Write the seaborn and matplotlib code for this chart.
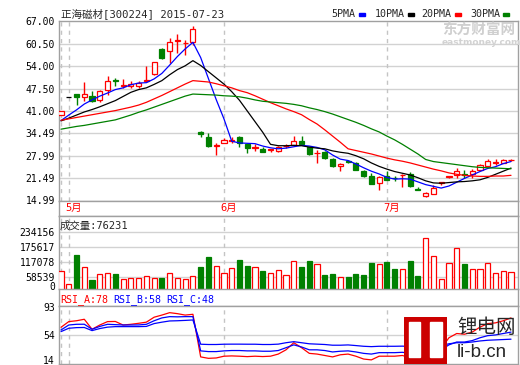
import numpy as np
import pandas as pd
import matplotlib
matplotlib.use('Agg')
import matplotlib.pyplot as plt
import seaborn as sns
from matplotlib.patches import Rectangle

sns.set_theme(style='white')
plt.rcParams['font.family'] = ['DejaVu Sans Mono', 'Noto Sans CJK SC']

# daily OHLC, 2015-04-30 .. 2015-07-23
opens = [39.9, 45.0, 45.9, 45.0, 45.4, 44.1, 47.0, 50.1, 48.3, 48.1,
         48.3, 49.6, 51.8, 59.1, 58.3, 61.3, 60.6, 61.0, 34.8, 33.4,
         30.8, 31.8, 32.4, 33.3, 31.5, 30.3, 30.0, 29.6, 29.5, 30.7,
         31.2, 32.4, 30.5, 28.7, 29.0, 27.0, 24.9, 26.4, 25.8, 23.6,
         22.2, 20.0, 22.0, 21.6, 22.3, 22.8, 18.2, 16.2, 16.9, 20.2,
         21.9, 22.5, 22.6, 22.7, 23.9, 25.1, 25.9, 26.0, 26.7]
closes = [40.9, 45.0, 45.0, 45.9, 44.0, 46.7, 49.6, 49.6, 48.4, 48.8,
          49.0, 50.1, 55.2, 56.4, 61.0, 61.5, 60.8, 64.8, 34.2, 30.7,
          31.0, 32.6, 32.6, 31.7, 30.2, 30.5, 29.2, 29.8, 30.5, 30.9,
          32.4, 31.5, 28.5, 28.9, 27.3, 24.9, 25.6, 26.2, 23.9, 22.0,
          19.8, 21.8, 21.0, 21.4, 22.5, 19.3, 17.9, 17.1, 18.6, 20.3,
          22.0, 23.6, 22.4, 23.6, 25.2, 26.6, 26.3, 26.8, 26.8]
highs = [41.0, 45.0, 45.9, 49.4, 46.8, 47.0, 51.2, 50.5, 50.3, 49.8,
         49.6, 54.0, 55.3, 59.3, 62.2, 63.3, 61.7, 65.7, 35.1, 34.6,
         31.8, 33.0, 33.5, 33.6, 31.6, 31.3, 30.4, 29.9, 30.9, 31.3,
         33.8, 33.8, 30.6, 29.7, 29.5, 27.2, 26.0, 26.7, 26.3, 23.9,
         23.0, 22.0, 23.6, 22.0, 22.6, 23.2, 18.9, 17.6, 19.6, 20.4,
         22.2, 24.4, 23.9, 24.0, 25.7, 27.1, 26.9, 27.1, 27.0]
lows = [39.9, 45.0, 42.6, 43.8, 43.6, 43.6, 45.7, 48.3, 47.6, 47.6,
        47.7, 49.5, 51.5, 56.2, 54.9, 57.8, 57.3, 60.2, 33.4, 30.5,
        28.1, 31.6, 31.6, 30.6, 28.8, 29.4, 29.0, 29.1, 29.1, 30.2,
        31.0, 31.2, 28.3, 25.9, 27.1, 24.8, 23.6, 26.0, 23.9, 21.9,
        19.7, 17.9, 20.9, 20.7, 18.9, 18.9, 17.9, 16.1, 16.8, 19.5,
        21.5, 21.5, 21.5, 21.5, 23.8, 25.0, 25.4, 25.9, 26.5]
volumes = [82000, 28900, 143200, 95200, 45700, 67900, 71800, 67900, 49600, 52300,
           52300, 60100, 52300, 52300, 71800, 52300, 49600, 60100, 95200, 134200,
           99100, 71800, 91300, 122500, 100300, 95200, 80800, 71800, 83500, 64000,
           118600, 96400, 119800, 106900, 65200, 69100, 56200, 57400, 69100, 65200,
           112000, 106900, 115900, 88600, 87400, 119800, 61300, 208400, 138200, 48400,
           110800, 169400, 108100, 87400, 87400, 110800, 71800, 79600, 76231]

ma5 = [38.2, 39.8, 41.3, 43.0, 44.2, 45.3, 46.2, 47.2, 47.7, 48.6,
       49.1, 49.2, 50.3, 51.9, 54.3, 56.8, 59.0, 60.9, 56.5, 50.4,
       44.3, 38.7, 32.2, 31.7, 31.6, 31.5, 30.8, 30.3, 30.0, 30.2,
       30.6, 31.0, 30.8, 30.4, 29.7, 28.2, 27.0, 26.6, 25.6, 24.5,
       23.5, 22.7, 21.7, 21.2, 21.3, 21.2, 20.4, 19.6, 19.1, 18.6,
       19.2, 20.3, 21.4, 22.4, 23.4, 24.3, 24.8, 25.7, 26.3]
ma10 = [38.1, 38.9, 39.8, 40.7, 41.4, 42.2, 43.1, 44.0, 45.2, 46.4,
        47.2, 47.7, 48.7, 49.8, 51.5, 53.0, 54.1, 55.6, 54.2, 52.4,
        50.6, 48.8, 46.6, 44.1, 41.0, 37.9, 34.8, 31.3, 30.9, 30.9,
        31.0, 30.9, 30.5, 30.2, 30.0, 29.4, 29.0, 28.7, 28.0, 27.1,
        25.9, 24.9, 24.1, 23.4, 22.9, 22.4, 21.6, 20.7, 20.1, 20.0,
        20.2, 20.4, 20.5, 20.7, 21.0, 21.7, 22.6, 23.5, 24.4]
ma20 = [38.3, 38.7, 39.1, 39.5, 39.9, 40.3, 40.7, 41.1, 41.6, 42.1,
        42.7, 43.5, 44.5, 45.5, 46.6, 47.7, 48.8, 49.8, 49.6, 49.4,
        48.9, 48.3, 47.7, 46.9, 46.3, 45.4, 44.4, 43.4, 42.5, 41.6,
        40.8, 39.9, 38.5, 37.2, 35.5, 33.7, 31.9, 30.0, 29.5, 29.0,
        28.5, 27.9, 27.3, 26.8, 26.4, 25.9, 25.3, 24.7, 24.1, 23.6,
        23.0, 22.6, 22.3, 22.1, 22.0, 22.0, 22.1, 22.1, 22.3]
ma30 = [35.7, 36.1, 36.5, 36.8, 37.2, 37.6, 38.0, 38.4, 39.1, 39.8,
        40.6, 41.3, 42.1, 42.9, 43.7, 44.5, 45.3, 45.9, 45.8, 45.7,
        45.6, 45.4, 45.3, 45.1, 44.7, 44.2, 43.8, 43.6, 43.4, 43.2,
        42.9, 42.5, 41.9, 41.4, 40.8, 40.1, 39.3, 38.5, 37.7, 36.8,
        35.8, 34.9, 33.7, 32.6, 31.3, 29.9, 28.5, 26.9, 26.3, 26.0,
        25.7, 25.4, 25.1, 24.8, 24.6, 24.5, 24.4, 24.3, 24.2]

rsi_a = [64.8, 72.8, 74.0, 76.1, 62.0, 68.0, 72.8, 73.0, 68.0, 69.0,
         70.4, 72.0, 79.0, 82.0, 85.4, 84.0, 82.0, 83.1, 23.0, 21.0,
         21.5, 24.0, 24.4, 24.0, 23.4, 24.0, 23.5, 24.0, 27.0, 33.0,
         43.0, 36.0, 28.0, 27.0, 25.0, 23.0, 26.0, 27.0, 24.0, 20.0,
         18.8, 24.0, 24.0, 24.0, 25.0, 22.0, 20.0, 21.0, 24.0, 35.0,
         50.0, 56.0, 55.0, 58.0, 65.0, 70.0, 71.0, 74.0, 78.0]
rsi_b = [61.0, 68.0, 69.0, 69.1, 62.0, 66.0, 69.0, 68.5, 68.0, 68.0,
         68.1, 69.0, 74.0, 78.0, 79.8, 79.5, 79.8, 79.8, 31.5, 30.5,
         30.5, 31.5, 32.0, 32.0, 31.5, 31.5, 31.0, 31.0, 32.0, 36.0,
         40.0, 37.0, 33.0, 33.0, 32.0, 30.0, 31.0, 31.5, 30.0, 28.0,
         27.0, 29.0, 29.0, 29.0, 29.5, 28.0, 27.0, 27.0, 29.0, 33.0,
         40.0, 44.0, 44.0, 46.0, 50.0, 53.0, 54.0, 56.0, 58.0]
rsi_c = [58.7, 63.4, 64.3, 64.5, 60.1, 63.0, 65.0, 65.7, 65.7, 65.7,
         65.7, 66.0, 70.0, 72.0, 73.7, 74.0, 74.5, 75.1, 40.9, 40.5,
         40.5, 40.9, 41.0, 41.0, 40.9, 40.9, 40.5, 40.5, 41.0, 43.0,
         44.5, 43.0, 41.5, 41.0, 40.5, 39.5, 39.5, 39.9, 39.0, 38.0,
         37.5, 38.0, 38.0, 38.0, 38.2, 37.5, 37.0, 37.0, 37.5, 39.0,
         41.5, 43.0, 43.0, 44.0, 45.5, 46.5, 47.0, 47.5, 48.0]

price_ticks = [14.99, 21.49, 27.99, 34.49, 41.00, 47.50, 54.00, 60.50, 67.00]
vol_ticks = [58539, 117078, 175617, 234156]
rsi_ticks = [14, 54, 93]
month_labels = ['5月', '6月', '7月']
month_starts = [1, 21, 42]

RED, GREEN, BLUE = '#FF0000', '#008000', '#0000FF'
GRID, EDGE, DASH = '#D2D2D2', '#A0A0A0', '#C4C4C4'
W, H = 520, 365

fig = plt.figure(figsize=(5.2, 3.65), dpi=100)


def px_axes(l, t, r, b):
    return fig.add_axes([l / W, 1 - b / H, (r - l) / W, (b - t) / H])


def fx(x):
    return x / W


def fy(y):
    return 1 - y / H


ax = px_axes(59, 20.7, 518, 200.5)
ax_m = px_axes(59, 200.5, 518, 216)
ax_v = px_axes(59, 216, 518, 289)
ax_s = px_axes(59, 289, 518, 306)
ax_r = px_axes(59, 306, 518, 364)

x = np.arange(len(closes))
o = np.array(opens)
c = np.array(closes)
rise = c >= o
flat = np.array(highs) == np.array(lows)

for a in (ax, ax_m, ax_v, ax_s, ax_r):
    a.set_xlim(-0.26, 58.9)
    a.set_facecolor('white')
    for sp in a.spines.values():
        sp.set_color(EDGE)
        sp.set_linewidth(1)
    a.tick_params(length=0, labelsize=7, pad=3, colors='black')
    a.set_xticks([])
    a.grid(False)
for a in (ax_m, ax_s):
    a.set_yticks([])

for a in (ax, ax_v, ax_r):
    for i in (0, 1, 21, 42):
        a.axvline(i, color=DASH, lw=1, ls=(0, (3, 3)), zorder=1)

# ---- price panel
ax.set_ylim(14.99, 67.2)
for v in price_ticks[1:-1]:
    ax.axhline(v, color=GRID, lw=1, zorder=0)
ax.set_yticks(price_ticks)
ax.set_yticklabels([f'{v:.2f}' for v in price_ticks])

wick_col = np.where(flat, 'black', np.where(rise, RED, GREEN))
ax.vlines(x, lows, highs, colors=wick_col, lw=1, zorder=2)
body_bot = np.minimum(o, c)
body_h = np.maximum(np.abs(c - o), 0.12)
face = np.where(flat, 'black', np.where(rise, 'white', GREEN))
edge = np.where(flat, 'black', np.where(rise, RED, GREEN))
ax.bar(x, body_h, bottom=body_bot, width=0.66, color=face, edgecolor=edge,
       linewidth=0.9, zorder=3)

ma = pd.DataFrame({'day': x, '5PMA': ma5, '10PMA': ma10, '20PMA': ma20, '30PMA': ma30})
ma_long = ma.melt(id_vars='day', var_name='line', value_name='price')
ma_pal = {'5PMA': BLUE, '10PMA': 'black', '20PMA': RED, '30PMA': GREEN}
sns.lineplot(data=ma_long, x='day', y='price', hue='line', palette=ma_pal,
             legend=False, lw=0.9, ax=ax, zorder=4)
ax.set_xlabel('')
ax.set_ylabel('')

# ---- month strip
ax_m.set_ylim(0, 1)
for lab, s in zip(month_labels, month_starts):
    ax_m.text(s - 0.45, 0.5, lab, color=RED, fontsize=7.5, ha='left', va='center')

# ---- volume panel
ax_v.set_ylim(10500, 295400)
for v in vol_ticks:
    ax_v.axhline(v, color=GRID, lw=1, zorder=0)
ax_v.set_yticks([22000] + vol_ticks)
ax_v.set_yticklabels(['0'] + [str(v) for v in vol_ticks])
ax_v.bar(x, volumes, width=0.66, color=np.where(rise, 'white', GREEN),
         edgecolor=np.where(rise, RED, GREEN), linewidth=0.9, zorder=3)

# ---- RSI panel (lowest label sits a little above its level, as in the source)
ax_r.set_ylim(13.0, 94.8)
ax_r.axhline(54, color=GRID, lw=1, zorder=0)
ax_r.set_yticks([18.5, 54, 93])
ax_r.set_yticklabels([str(v) for v in rsi_ticks])
rsi = pd.DataFrame({'day': x, 'A': rsi_a, 'B': rsi_b, 'C': rsi_c})
rsi_long = rsi.melt(id_vars='day', var_name='line', value_name='rsi')
sns.lineplot(data=rsi_long, x='day', y='rsi', hue='line',
             palette={'A': RED, 'B': BLUE, 'C': BLUE}, legend=False, lw=0.9,
             ax=ax_r, zorder=4)
ax_r.set_xlabel('')
ax_r.set_ylabel('')

# ---- texts
fig.text(fx(61), fy(14), '正海磁材[300224] 2015-07-23', fontsize=7.6, va='center', ha='left')
leg_x = [331.7, 374.3, 421.7, 470.0]
for (name, col), lx in zip(ma_pal.items(), leg_x):
    t = fig.text(fx(lx), fy(14.3), name, fontsize=7.2, va='center', ha='left')
    sq = 359.0 + (lx - 331.7) + (len(name) - 4) * 6.0
    fig.patches.append(Rectangle((fx(sq), fy(15.8)), fx(6), 3 / H, color=col,
                                 transform=fig.transFigure, figure=fig))

fig.text(fx(60), fy(226), '成交量:76231', fontsize=7.5, va='center', ha='left')
fig.text(fx(60), fy(299.5), 'RSI_A:78', fontsize=7.2, va='center', ha='left', color=RED)
fig.text(fx(113), fy(299.5), 'RSI_B:58', fontsize=7.2, va='center', ha='left', color=BLUE)
fig.text(fx(166.7), fy(299.5), 'RSI_C:48', fontsize=7.2, va='center', ha='left', color=BLUE)

# watermarks
fig.text(fx(442), fy(30), '东方财富网', fontsize=10.5, fontweight='bold',
         color='#CFCFCF', va='center', ha='left', family=['Noto Sans CJK SC'])
fig.text(fx(442), fy(42.5), 'eastmoney.com', fontsize=6.5, fontweight='bold',
         color='#D2D2D2', va='center', ha='left', family=['DejaVu Sans'])

logo = fig.add_axes([fx(404), fy(364), (447 - 404) / W, (364 - 317) / H])
logo.set_xlim(0, 43)
logo.set_ylim(47, 0)
logo.axis('off')
logo.add_patch(Rectangle((0, 0), 43, 47, color='#CC0000'))
logo.add_patch(Rectangle((5, 5), 11, 35, color='white'))
logo.add_patch(Rectangle((26, 5), 12, 35, color='white'))
fig.text(fx(457), fy(327.5), '锂电网', fontsize=14, va='center', ha='left',
         family=['Noto Sans CJK SC'])
fig.text(fx(457), fy(352.5), 'li-b.cn', fontsize=13.5, va='center', ha='left',
         family=['Liberation Sans'])

fig.savefig('out.png', dpi=100)
